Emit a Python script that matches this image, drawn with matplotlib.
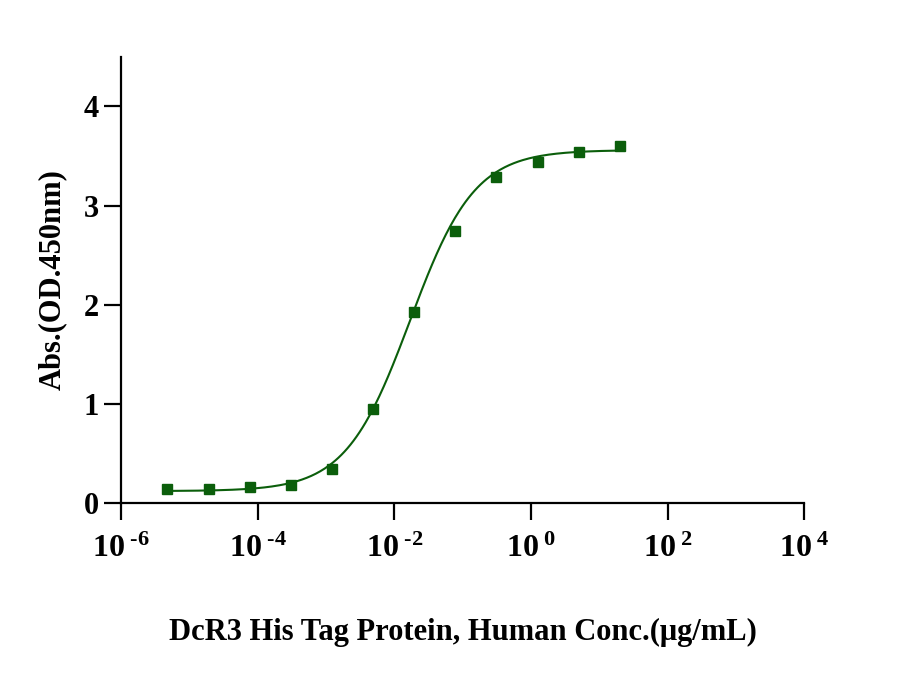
import numpy as np
import matplotlib
matplotlib.use("Agg")
import matplotlib.pyplot as plt

# data
conc = [4.77e-6, 1.91e-5, 7.63e-5, 3.05e-4, 1.22e-3, 4.88e-3, 0.0195, 0.078, 0.3125, 1.25, 5.0, 20.0]
od450 = [0.14, 0.14, 0.16, 0.18, 0.34, 0.95, 1.93, 2.74, 3.29, 3.44, 3.54, 3.60]

# 4PL fit parameters (estimated)
bottom, top, ec50, hill = 0.12, 3.56, 0.017, 0.92

xticks = [1e-6, 1e-4, 1e-2, 1e0, 1e2, 1e4]
xticklabels = ["10$^{\\text{ -6}}$", "10$^{\\text{ -4}}$", "10$^{\\text{ -2}}$",
               "10$^{\\text{ 0}}$", "10$^{\\text{ 2}}$", "10$^{\\text{ 4}}$"]
yticks = [0, 1, 2, 3, 4]

plt.rcParams['font.family'] = ['Liberation Serif', 'DejaVu Serif']
plt.rcParams['font.weight'] = 'bold'
plt.rcParams['mathtext.fontset'] = 'custom'
plt.rcParams['mathtext.rm'] = 'Liberation Serif:bold'
plt.rcParams['mathtext.it'] = 'Liberation Serif:bold'
plt.rcParams['mathtext.bf'] = 'Liberation Serif:bold'

green = '#0b5e0b'

fig = plt.figure(figsize=(8.99, 6.77), dpi=100)
ax = fig.add_axes([0.1346, 0.257, 0.760, 0.659])

xs = np.logspace(np.log10(conc[0]), np.log10(conc[-1]), 300)
fit = bottom + (top - bottom) / (1 + (ec50 / xs) ** hill)
ax.plot(xs, fit, color=green, lw=1.5)
ax.plot(conc, od450, 's', color=green, ms=7.5, mec=green)

ax.set_xscale('log')
ax.set_xlim(1e-6, 1e4)
ax.set_ylim(0, 4.5)
ax.set_xticks(xticks)
ax.set_xticklabels(xticklabels)
ax.xaxis.set_minor_locator(matplotlib.ticker.NullLocator())
ax.set_yticks(yticks)

for s in ['top', 'right']:
    ax.spines[s].set_visible(False)
for s in ['left', 'bottom']:
    ax.spines[s].set_linewidth(1.6)

ax.tick_params(axis='both', which='major', length=12, width=1.6, direction='out')
ax.tick_params(axis='x', labelsize=23, pad=11)
ax.tick_params(axis='y', labelsize=22, pad=4)

ax.set_ylabel('Abs.(OD.450nm)', fontsize=22, fontweight='bold', labelpad=12)
ax.set_xlabel('DcR3 His Tag Protein, Human Conc.(\u03bcg/mL)', fontsize=22,
              fontweight='bold', labelpad=39)

fig.savefig('out.png', dpi=100)
